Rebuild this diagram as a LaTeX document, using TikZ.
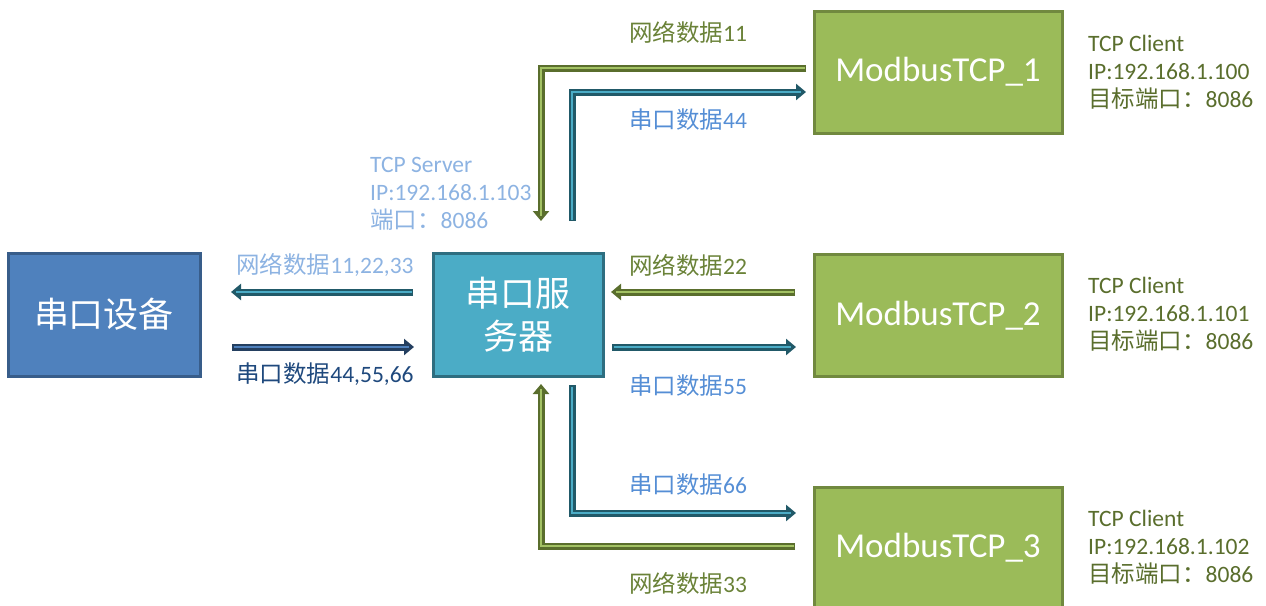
\documentclass[tikz,border=0pt]{standalone}
\usepackage{fontspec}
\setmainfont{Carlito}
\newfontfamily\cjk{Noto Sans CJK SC}
\usetikzlibrary{arrows.meta}
\definecolor{devfill}{HTML}{4F81BD}
\definecolor{devline}{HTML}{385D8A}
\definecolor{srvfill}{HTML}{4BACC6}
\definecolor{srvline}{HTML}{2E6E80}
\definecolor{modfill}{HTML}{9BBB59}
\definecolor{modline}{HTML}{71893F}
\definecolor{gout}{HTML}{5A6E2D}
\definecolor{gin}{HTML}{A3C264}
\definecolor{tout}{HTML}{215968}
\definecolor{tin}{HTML}{4BACC6}
\definecolor{bout}{HTML}{243F60}
\definecolor{bin}{HTML}{4F81BD}
\definecolor{gtext}{HTML}{6A8238}
\definecolor{ctext}{HTML}{5A6E2D}
\definecolor{btext}{HTML}{558ED5}
\definecolor{ltext}{HTML}{8DB3E2}
\definecolor{dtext}{HTML}{1F497D}
\begin{document}
\begin{tikzpicture}[x=1pt,y=-1pt,
  box/.style={draw, line width=3pt, minimum width=#1, inner sep=0pt, text=white},
  dev/.style={box=192pt, minimum height=123pt, fill=devfill, draw=devline, font=\fontsize{35}{42}\selectfont\cjk},
  srv/.style={box=170pt, minimum height=123pt, fill=srvfill, draw=srvline, font=\fontsize{35}{43}\selectfont\cjk, align=center},
  mod/.style={box=248pt, minimum height=122pt, fill=modfill, draw=modline, font=\fontsize{35}{42}\selectfont},
  lbl/.style={font=\fontsize{23.5}{28}\selectfont, inner sep=0pt},
  info/.style={font=\fontsize{23.5}{27.8}\selectfont, inner sep=0pt, align=left, anchor=north west},
  gouter/.style={draw=gout, line width=7pt, line join=miter, -{Triangle[width=16pt,length=10pt]}},
  ginner/.style={draw=gin, line width=2pt, line join=miter, shorten >=5pt, shorten <=1.5pt},
  touter/.style={draw=tout, line width=7pt, line join=miter, -{Triangle[width=16pt,length=10pt]}},
  tinner/.style={draw=tin, line width=1.6pt, line join=miter, shorten >=5pt, shorten <=1.5pt},
  bouter/.style={draw=bout, line width=7pt, line join=miter, -{Triangle[width=16pt,length=10pt]}},
  binner/.style={draw=bin, line width=1.6pt, line join=miter, shorten >=5pt, shorten <=1.5pt}]
\useasboundingbox (0,0) rectangle (1266,605);

% boxes
\node[dev] (dev) at (104,314.5) {串口设备};
\node[srv] (srv) at (518,314.5) {串口服\\务器};
\node[mod] (m1) at (938,72) {ModbusTCP\_1};
\node[mod] (m2) at (938,315.5) {ModbusTCP\_2};
\node[mod] (m3) at (938,548) {ModbusTCP\_3};

% coordinates
\coordinate (a1s) at (806,68);  \coordinate (a1c) at (541,68);  \coordinate (a1e) at (541,221);
\coordinate (b1s) at (572,221); \coordinate (b1c) at (572,92);  \coordinate (b1e) at (806,92);
\coordinate (l1s) at (413,292); \coordinate (l1e) at (231,292);
\coordinate (l2s) at (232,347); \coordinate (l2e) at (414,347);
\coordinate (r1s) at (795,292); \coordinate (r1e) at (611,292);
\coordinate (r2s) at (612,347); \coordinate (r2e) at (796,347);
\coordinate (b3s) at (572,385); \coordinate (b3c) at (572,513); \coordinate (b3e) at (796,513);
\coordinate (a3s) at (795,546); \coordinate (a3c) at (541,546); \coordinate (a3e) at (541,384);

% arrows
\draw[gouter] (a1s) -- (a1c) -- (a1e);
\draw[ginner] (a1s) -- (a1c) -- (a1e);
\draw[touter] (b1s) -- (b1c) -- (b1e);
\draw[tinner] (b1s) -- (b1c) -- (b1e);
\draw[touter] (l1s) -- (l1e);
\draw[tinner] (l1s) -- (l1e);
\draw[bouter] (l2s) -- (l2e);
\draw[binner] (l2s) -- (l2e);
\draw[gouter] (r1s) -- (r1e);
\draw[ginner] (r1s) -- (r1e);
\draw[touter] (r2s) -- (r2e);
\draw[tinner] (r2s) -- (r2e);
\draw[touter] (b3s) -- (b3c) -- (b3e);
\draw[tinner] (b3s) -- (b3c) -- (b3e);
\draw[gouter] (a3s) -- (a3c) -- (a3e);
\draw[ginner] (a3s) -- (a3c) -- (a3e);

% labels
\node[lbl, text=gtext] (t11) at (688,32) {{\cjk 网络数据}11};
\node[lbl, text=btext] (t44) at (688,120) {{\cjk 串口数据}44};
\node[lbl, text=ltext] (tall) at (325,265) {{\cjk 网络数据}11,22,33};
\node[lbl, text=dtext] (sall) at (325,374) {{\cjk 串口数据}44,55,66};
\node[lbl, text=gtext] (t22) at (688,265) {{\cjk 网络数据}22};
\node[lbl, text=btext] (t55) at (688,386) {{\cjk 串口数据}55};
\node[lbl, text=btext] (t66) at (688,485) {{\cjk 串口数据}66};
\node[lbl, text=gtext] (t33) at (688,583) {{\cjk 网络数据}33};

% info texts
\node[info, text=ltext] (srvinfo) at (370,157) {TCP Server\\IP:192.168.1.103\\{\cjk 端口：}8086};
\node[info, text=ctext] (c1) at (1088,35) {TCP Client\\IP:192.168.1.100\\{\cjk 目标端口：}8086};
\node[info, text=ctext] (c2) at (1088,277) {TCP Client\\IP:192.168.1.101\\{\cjk 目标端口：}8086};
\node[info, text=ctext] (c3) at (1088,510) {TCP Client\\IP:192.168.1.102\\{\cjk 目标端口：}8086};
\end{tikzpicture}
\end{document}
